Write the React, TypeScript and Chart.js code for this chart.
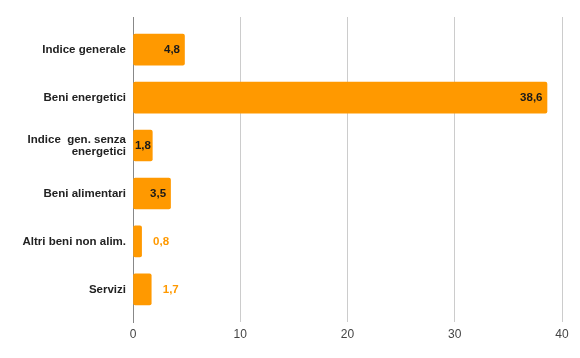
import React, { useEffect, useRef } from "react";
import { Chart, registerables } from "chart.js";

Chart.register(...registerables);

const categories: (string | string[])[] = [
  "Indice generale",
  "Beni energetici",
  ["Indice  gen. senza", "energetici"],
  "Beni alimentari",
  "Altri beni non alim.",
  "Servizi",
];
const values: number[] = [4.8, 38.6, 1.8, 3.5, 0.8, 1.7];
const valueLabels: string[] = ["4,8", "38,6", "1,8", "3,5", "0,8", "1,7"];
const xTicks: number[] = [0, 10, 20, 30, 40];

const ORANGE = "#ff9900";
const FONT = "'Liberation Sans', Arial, sans-serif";

const valueLabelPlugin = {
  id: "valueLabels",
  afterDatasetsDraw(chart: any) {
    const ctx = chart.ctx;
    const meta = chart.getDatasetMeta(0);
    ctx.save();
    ctx.font = `bold 11.5px ${FONT}`;
    ctx.textBaseline = "middle";
    ctx.textAlign = "left";
    meta.data.forEach((bar: any, i: number) => {
      const text = valueLabels[i];
      const tw = ctx.measureText(text).width;
      const start = Math.min(bar.base, bar.x);
      const end = Math.max(bar.base, bar.x);
      const bw = end - start;
      if (bw >= tw + 2.5) {
        const x = Math.max(start + (bw - tw) / 2, end - 4.5 - tw);
        ctx.fillStyle = "#1a1a1a";
        ctx.fillText(text, x, bar.y + 0.5);
      } else {
        ctx.fillStyle = ORANGE;
        ctx.fillText(text, end + 11.5, bar.y + 0.5);
      }
    });
    ctx.restore();
  },
};

export default function App() {
  const ref = useRef<HTMLCanvasElement>(null);
  useEffect(() => {
    if (!ref.current) return;
    const chart = new Chart(ref.current, {
      type: "bar",
      data: {
        datasets: [
          {
            data: values.map((v, i) => ({ x: v, y: i })),
            backgroundColor: ORANGE,
            borderRadius: 2,
            borderSkipped: false,
            barThickness: 31,
          },
        ],
      },
      options: {
        indexAxis: "y",
        responsive: false,
        animation: false,
        layout: { padding: { top: 17, right: 18, left: 0, bottom: 0 } },
        plugins: { legend: { display: false }, tooltip: { enabled: false } },
        scales: {
          x: {
            type: "linear",
            min: xTicks[0],
            max: xTicks[xTicks.length - 1],
            afterBuildTicks: (scale: any) => {
              scale.ticks = xTicks.map((v) => ({ value: v }));
            },
            afterFit: (scale: any) => {
              scale.height = 36;
            },
            grid: { color: "#cccccc", drawTicks: false, lineWidth: 1 },
            border: { display: false },
            ticks: {
              padding: 5,
              color: "#444444",
              font: { family: FONT, size: 12 },
            },
          },
          y: {
            type: "linear",
            reverse: true,
            offset: false,
            min: -0.68,
            max: 5.68,
            afterBuildTicks: (scale: any) => {
              scale.ticks = categories.map((_, i) => ({ value: i }));
            },
            afterFit: (scale: any) => {
              scale.width = 133;
            },
            grid: { display: false, drawTicks: false },
            border: { display: true, color: "#888888", width: 1 },
            ticks: {
              autoSkip: false,
              padding: 7,
              color: "#222222",
              font: { family: FONT, size: 11.5, weight: "bold", lineHeight: 1.05 },
              callback: (v: any) => {
                const idx = Number(v);
                return Number.isInteger(idx) && categories[idx] !== undefined ? categories[idx] : "";
              },
            },
          },
        },
      },
      plugins: [valueLabelPlugin],
    } as any);
    return () => chart.destroy();
  }, []);
  return (
    <div style={{ position: "absolute", left: 0, top: 0, width: 580, height: 358, background: "#fff" }}>
      <canvas ref={ref} width={580} height={358} />
    </div>
  );
}
